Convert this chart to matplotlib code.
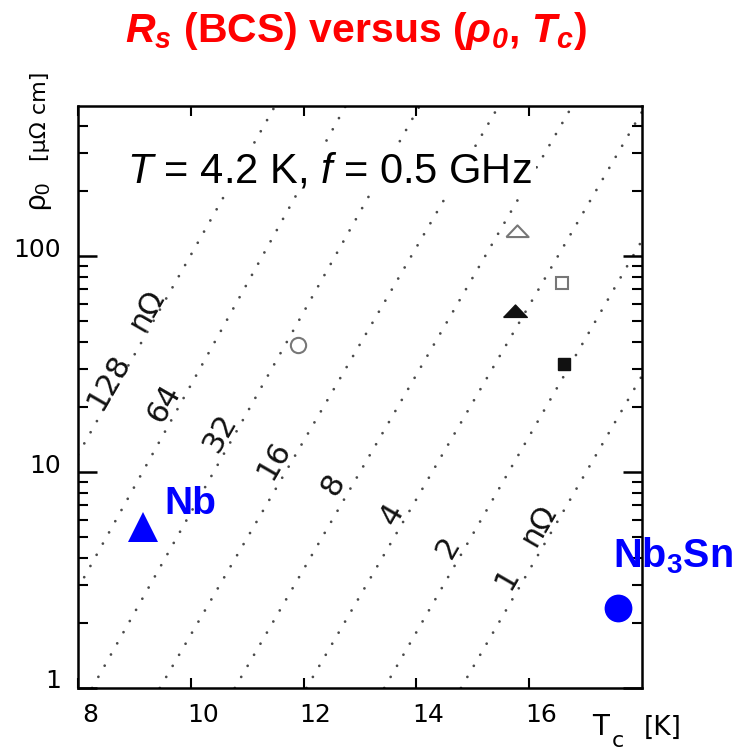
import numpy as np
import matplotlib.pyplot as plt
import matplotlib.transforms as mtransforms
from matplotlib.ticker import FixedLocator, NullFormatter, LogLocator

plt.rcParams['mathtext.fontset'] = 'custom'
plt.rcParams['mathtext.rm'] = 'Liberation Sans'
plt.rcParams['mathtext.it'] = 'Liberation Sans:italic'
plt.rcParams['mathtext.bf'] = 'Liberation Sans:bold'
plt.rcParams['mathtext.bfit'] = 'Liberation Sans:bold:italic'

# ---- data ----
# dotted lines of constant Rs: Tc where each line crosses rho0 = 1 and rho0 = 100
rs_values = [128, 64, 32, 16, 8, 4, 2, 1]
tc_at_rho1 = [5.66, 7.02, 8.25, 9.45, 10.78, 12.05, 13.43, 14.79]
tc_at_rho100 = [9.99, 11.27, 12.56, 13.91, 15.22, 16.51, 17.84, 19.23]

# labels written along the lines
line_label_text = ['128', 'n\u03a9', '64', '32', '16', '8', '4', '2', '1', 'n\u03a9']
line_label_tc = [8.55, 9.22, 9.52, 10.52, 11.48, 12.52, 13.57, 14.56, 15.61, 16.17]
line_label_rho = [26.1, 56.2, 20.9, 15.2, 11.4, 8.80, 6.39, 4.50, 3.23, 5.68]

# black symbols of the original figure
sym_tc = [11.90, 15.78, 16.58, 15.75, 16.61]
sym_rho = [38.6, 130.6, 75.2, 55.6, 31.5]

# materials added in blue
mat_names = ['Nb', 'Nb$_{\\mathbf{3}}$Sn']
mat_tc = [9.16, 17.57]
mat_rho = [5.59, 2.35]

x_ticks = [8, 10, 12, 14, 16]
y_ticks = [1, 10, 100]

W, H = 740, 753
fig = plt.figure(figsize=(W / 100, H / 100), dpi=100)
ax = fig.add_axes([78 / W, 65 / H, 564 / W, 582 / H])
ax.set_yscale('log')
ax.set_xlim(8, 18)
ax.set_ylim(1, 495)

# dotted constant-Rs lines
for rs, t1, t100 in zip(rs_values, tc_at_rho1, tc_at_rho100):
    ax.axline((t1, 1), (t100, 100), color='#4a4a4a', lw=2.0,
              linestyle=(0, (0.01, 4.6)), dash_capstyle='round', zorder=1)

for txt, t, r in zip(line_label_text, line_label_tc, line_label_rho):
    ax.text(t, r, txt, rotation=60, rotation_mode='anchor', ha='center',
            va='center', fontsize=22, color='#111111', zorder=3)

# black symbols
flat_tri = [(-1, -0.5), (1, -0.5), (0, 0.55), (-1, -0.5)]
ax.plot(sym_tc[0], sym_rho[0], marker='o', ms=11, mfc='none', mec='#777777', mew=1.5)
ax.plot(sym_tc[1], sym_rho[1], marker=flat_tri, ms=16, mfc='none', mec='#777777', mew=1.5)
ax.plot(sym_tc[2], sym_rho[2], marker='s', ms=8.5, mfc='none', mec='#777777', mew=1.5)
ax.plot(sym_tc[3], sym_rho[3], marker=flat_tri, ms=17, mfc='#111111', mec='#111111', mew=1)
ax.plot(sym_tc[4], sym_rho[4], marker='s', ms=8.5, mfc='#111111', mec='#111111', mew=1)

# blue materials
ax.plot(mat_tc[0], mat_rho[0], marker='^', ms=21.5, color='blue', mew=0, zorder=4)
ax.plot(mat_tc[1], mat_rho[1], marker='o', ms=20, color='blue', mew=0, zorder=4,
        clip_on=False)
fig.text(164 / W, 1 - 514 / H, mat_names[0], color='blue', fontsize=28,
         fontweight='bold', family='Liberation Sans', ha='left', va='baseline')
fig.text(613 / W, 1 - 567 / H, mat_names[1], color='blue', fontsize=28.5,
         fontweight='bold', family='Liberation Sans', ha='left', va='baseline')

# axes styling
for sp in ax.spines.values():
    sp.set_linewidth(1.8)
ax.xaxis.set_major_locator(FixedLocator(x_ticks))
ax.set_xticklabels([str(v) for v in x_ticks])
ax.yaxis.set_major_locator(FixedLocator(y_ticks))
ax.set_yticklabels([str(v) for v in y_ticks])
ax.yaxis.set_minor_locator(LogLocator(base=10, subs=np.arange(2, 10)))
ax.yaxis.set_minor_formatter(NullFormatter())
ax.tick_params(axis='x', which='major', direction='in', top=True, length=7,
               width=1.5, labelsize=18, pad=11)
ax.tick_params(axis='y', which='major', direction='in', right=True, length=14,
               width=1.8, labelsize=18, pad=12)
ax.tick_params(axis='y', which='minor', direction='in', right=True, length=7,
               width=1.5)

dx = mtransforms.ScaledTranslation(12 / 100, 0, fig.dpi_scale_trans)
for lbl in ax.get_xticklabels():
    lbl.set_transform(lbl.get_transform() + dx)
dy = mtransforms.ScaledTranslation(0, 9 / 100, fig.dpi_scale_trans)
for lbl in ax.get_yticklabels():
    lbl.set_transform(lbl.get_transform() + dy)

# axis labels
fig.text(40 / W, 1 - 116 / H, '[\u03bc\u03a9 cm]', rotation=90, ha='center',
         va='center', fontsize=16)
fig.text(40 / W, 1 - 196 / H, r'$\mathrm{\rho_0}$', rotation=90, ha='center',
         va='center', fontsize=21)
fig.text(601 / W, 1 - 727 / H, 'T', ha='center', va='center', fontsize=20)
fig.text(618 / W, 1 - 741 / H, 'c', ha='center', va='center', fontsize=16)
fig.text(663 / W, 1 - 728 / H, '[K]', ha='center', va='center', fontsize=19)

# title and conditions
fig.text(356 / W, 1 - 42 / H,
         r'$\mathbfit{R}_{\mathbfit{s}}$ (BCS) versus ($\mathbfit{\rho}_{\mathbfit{0}}$, $\mathbfit{T}_{\mathbfit{c}}$)',
         ha='center', va='baseline', color='red', fontsize=29.5, fontweight='bold',
         family='Liberation Sans')
fig.text(127 / W, 1 - 182 / H, r'$\mathit{T}$ = 4.2 K, $\mathit{f}$ = 0.5 GHz',
         ha='left', va='baseline', fontsize=30, family='Liberation Sans',
         bbox=dict(facecolor='white', edgecolor='none', pad=3))

fig.savefig('out.png', dpi=100)
